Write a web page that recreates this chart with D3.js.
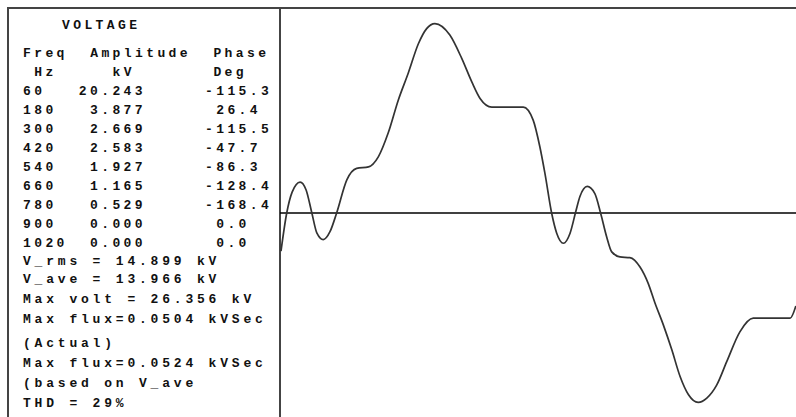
<!DOCTYPE html>
<html>
<head>
<meta charset="utf-8">
<script src="https://cdn.jsdelivr.net/npm/d3@7"></script>
<style>
  body { margin: 0; background: #fff; }
  svg { display: block; }
  text { font-family: "Liberation Mono", "DejaVu Sans Mono", monospace; font-weight: bold; font-size: 13px; fill: #111; white-space: pre; letter-spacing: 3.4px; }
  text.sum { letter-spacing: 3.8px; }
</style>
</head>
<body>
<svg id="chart"></svg>
<script>
// harmonic table
const freqHz = [60, 180, 300, 420, 540, 660, 780, 900, 1020];
const ampKv = [20.243, 3.877, 2.669, 2.583, 1.927, 1.165, 0.529, 0.000, 0.000];
const phaseDeg = [-115.3, 26.4, -115.5, -47.7, -86.3, -128.4, -168.4, 0.0, 0.0];
const headers = ['Freq  Amplitude  Phase', ' Hz     kV       Deg'];

const vRms = 14.899;
const vAve = 13.966;
const maxVolt = 26.356;
const maxFluxActual = 0.0504;
const maxFluxAve = 0.0524;
const thd = 29;

// waveform samples, time in ms and voltage in kV
const timeMs = [0, 0.18, 0.35, 0.60, 0.79, 0.97, 1.13, 1.33, 1.54, 1.75, 2.07, 2.38, 2.75, 3.06,
  3.37, 3.69, 4.00, 4.32, 4.58, 4.84, 5.31, 5.68, 6.00, 6.26, 6.63, 7.41, 7.62, 7.93, 8.14, 8.30,
  8.51, 8.67, 8.88, 9.09, 9.27, 9.40, 9.63, 9.87, 10.05, 10.24, 10.40, 10.66, 10.97, 11.29, 11.55,
  11.76, 12.02, 12.29, 12.55, 12.81, 13.12, 13.39, 13.70, 14.02, 14.43, 14.85, 16.01, 16.19];
const voltKv = [-5.3, 0, 2.9, 4.3, 3.2, 0, -2.8, -3.7, -2.6, 0, 4.6, 6.2, 6.4, 7.8,
  11.1, 15.7, 19.4, 23.5, 25.6, 26.3, 24.7, 21.5, 18.2, 15.9, 14.7, 14.7, 14.7, 12.9, 9.2, 5.5,
  0, -2.8, -4.2, -2.8, 0.2, 2.3, 3.7, 2.7, 0, -3.3, -5.4, -6.1, -6.2, -7.5, -9.8,
  -12.5, -15.5, -19.0, -22.7, -25.2, -26.3, -25.7, -23.9, -20.6, -16.5, -14.6, -14.6, -12.9];

const W = 796, H = 417;
const frame = {left: 8, top: 8, divider: 280};

const svg = d3.select('#chart')
    .attr('width', W)
    .attr('height', H);

// frame
svg.append('line')
    .attr('x1', frame.left).attr('x2', frame.left)
    .attr('y1', frame.top - 1).attr('y2', H)
    .attr('stroke', '#444').attr('stroke-width', 2);
svg.append('line')
    .attr('x1', frame.left - 1).attr('x2', W)
    .attr('y1', frame.top).attr('y2', frame.top)
    .attr('stroke', '#444').attr('stroke-width', 2);
svg.append('line')
    .attr('x1', frame.divider).attr('x2', frame.divider)
    .attr('y1', frame.top).attr('y2', H)
    .attr('stroke', '#444').attr('stroke-width', 2);

// TEXT PANEL
const panel = svg.append('g');

panel.append('text')
    .attr('x', 62).attr('y', 29)
    .text('VOLTAGE');

panel.selectAll('text.head')
    .data(headers)
  .enter().append('text')
    .attr('class', 'head')
    .attr('x', 23)
    .attr('y', (d, i) => 57 + i * 19)
    .text(d => d);

const rowY = i => 95 + i * 19;

panel.selectAll('text.freq')
    .data(freqHz)
  .enter().append('text')
    .attr('class', 'freq')
    .attr('x', 23)
    .attr('y', (d, i) => rowY(i))
    .text(d => d);

panel.selectAll('text.amp')
    .data(ampKv)
  .enter().append('text')
    .attr('class', 'amp')
    .attr('x', 146)   // trailing letter-spacing is counted in the end anchor
    .attr('y', (d, i) => rowY(i))
    .attr('text-anchor', 'end')
    .text(d => d.toFixed(3));

panel.selectAll('text.phase')
    .data(phaseDeg)
  .enter().append('text')
    .attr('class', 'phase')
    .attr('x', 205)
    .attr('y', (d, i) => rowY(i))
    .text(d => (d < 0 ? '' : ' ') + d.toFixed(1));

const summary = [
  `V_rms = ${vRms.toFixed(3)} kV`,
  `V_ave = ${vAve.toFixed(3)} kV`,
  `Max volt = ${maxVolt.toFixed(3)} kV`,
  `Max flux=${maxFluxActual.toFixed(4)} kVSec`,
  '(Actual)',
  `Max flux=${maxFluxAve.toFixed(4)} kVSec`,
  '(based on V_ave',
  `THD = ${thd}%`
];
const summaryY = [265, 283, 303, 323, 347, 367, 387, 407];

panel.selectAll('text.sum')
    .data(summary)
  .enter().append('text')
    .attr('class', 'sum')
    .attr('x', 23)
    .attr('y', (d, i) => summaryY[i])
    .text(d => d);

// WAVEFORM
const xScale = d3.scaleLinear()
    .domain([0, 1000 / 60])   // one 60 Hz cycle
    .range([281, 811]);

const yScale = d3.scaleLinear()
    .domain([-28.6, 28.6])
    .range([419, 7]);

const plot = svg.append('g');

plot.append('line')
    .attr('x1', frame.divider).attr('x2', W)
    .attr('y1', yScale(0)).attr('y2', yScale(0))
    .attr('stroke', '#000').attr('stroke-width', 1.5);

const wave = timeMs.map((t, i) => ({t: t, v: voltKv[i]}));

plot.append('path')
    .datum(wave)
    .attr('fill', 'none')
    .attr('stroke', '#333')
    .attr('stroke-width', 1.7)
    .attr('d', d3.line()
        .x(d => xScale(d.t))
        .y(d => yScale(d.v))
        .curve(d3.curveMonotoneX));
</script>
</body>
</html>
